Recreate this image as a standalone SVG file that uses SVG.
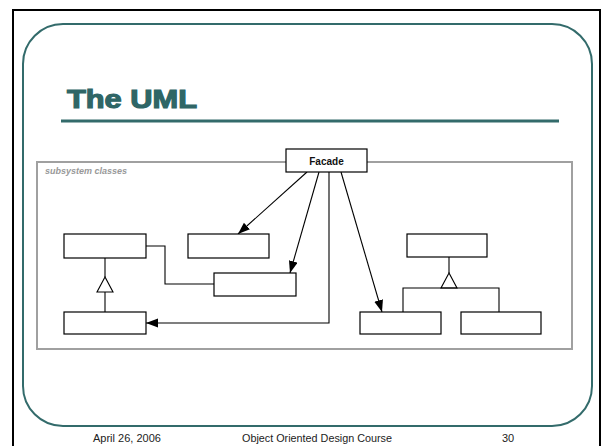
<svg xmlns="http://www.w3.org/2000/svg" width="602" height="446" viewBox="0 0 602 446">
  <style>
    .cls { fill: #ffffff; stroke: #000000; stroke-width: 1.2; }
    .conn { fill: none; stroke: #000000; stroke-width: 1.1; }
    .foot { font-family: "Liberation Sans", Arial, sans-serif; font-size: 11px; fill: #222222; }
  </style>
  <defs>
    <marker id="arr" markerUnits="userSpaceOnUse" markerWidth="13" markerHeight="10" refX="12" refY="4.5" orient="auto">
      <path d="M0,0 L12,4.5 L0,9 z" fill="#000000"/>
    </marker>
  </defs>
  <rect x="0" y="0" width="602" height="446" fill="#ffffff"/>
  <!-- slide frame -->
  <path d="M13,446 L13,10 L600,10 L600,446" fill="none" stroke="#000000" stroke-width="2"/>
  <rect x="23" y="24" width="569" height="402" rx="40" ry="40" fill="none" stroke="#336b6b" stroke-width="2"/>
  <!-- title -->
  <text x="67" y="108" font-family="'Liberation Sans', Arial, sans-serif" font-size="26" font-weight="bold" fill="#2f6666" stroke="#2f6666" stroke-width="1.2" textLength="130" lengthAdjust="spacingAndGlyphs">The UML</text>
  <line x1="61" y1="121" x2="559" y2="121" stroke="#336b6b" stroke-width="3"/>
  <!-- subsystem package -->
  <g id="subsystem">
    <rect x="37" y="162" width="535" height="187" fill="none" stroke="#a0a0a0" stroke-width="2"/>
    <text x="45" y="174" font-family="'Liberation Sans', Arial, sans-serif" font-size="9" font-style="italic" font-weight="bold" fill="#999999">subsystem classes</text>
  </g>
  <!-- connectors -->
  <g id="connectors">
    <line class="conn" x1="307" y1="172" x2="238" y2="234" marker-end="url(#arr)"/>
    <line class="conn" x1="319" y1="172" x2="290" y2="273" marker-end="url(#arr)"/>
    <polyline class="conn" points="329,172 329,323 146,323" marker-end="url(#arr)"/>
    <line class="conn" x1="341" y1="172" x2="382" y2="312" marker-end="url(#arr)"/>
    <polyline class="conn" points="146,246 165,246 165,284 214,284"/>
    <line class="conn" x1="105" y1="258" x2="105" y2="277"/>
    <polygon class="conn" points="105,277 97,292 113,292" fill="#ffffff"/>
    <line class="conn" x1="105" y1="292" x2="105" y2="312"/>
    <line class="conn" x1="449" y1="257" x2="449" y2="273"/>
    <polygon class="conn" points="449,273 441,288 457,288" fill="#ffffff"/>
    <polyline class="conn" points="403,312 403,288 499,288 499,312"/>
  </g>
  <!-- nodes -->
  <g id="facade">
    <rect class="cls" x="286" y="149" width="81" height="23"/>
    <text x="326.5" y="164.5" text-anchor="middle" font-family="'Liberation Sans', Arial, sans-serif" font-size="10" font-weight="bold" fill="#111111">Facade</text>
  </g>
  <g id="classA"><rect class="cls" x="64" y="234" width="82" height="24"/></g>
  <g id="classB"><rect class="cls" x="188" y="234" width="81" height="24"/></g>
  <g id="classC"><rect class="cls" x="214" y="273" width="82" height="23"/></g>
  <g id="classD"><rect class="cls" x="64" y="312" width="82" height="22"/></g>
  <g id="classE"><rect class="cls" x="360" y="312" width="81" height="22"/></g>
  <g id="classF"><rect class="cls" x="461" y="312" width="80" height="22"/></g>
  <g id="classG"><rect class="cls" x="407" y="234" width="80" height="23"/></g>
  <!-- footer -->
  <text class="foot" x="93" y="442">April 26, 2006</text>
  <text class="foot" x="242" y="442" textLength="150" lengthAdjust="spacingAndGlyphs">Object Oriented Design Course</text>
  <text class="foot" x="502" y="442">30</text>
</svg>
